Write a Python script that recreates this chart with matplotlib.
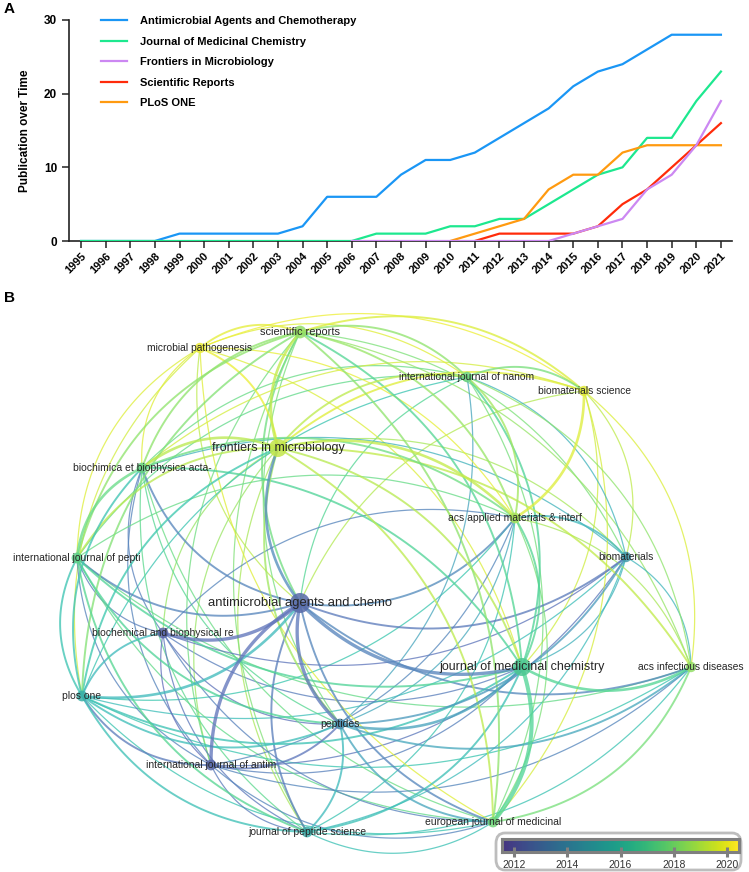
import numpy as np
import matplotlib
matplotlib.use("Agg")
import matplotlib.pyplot as plt
from matplotlib.colors import ListedColormap, Normalize, rgb_to_hsv, hsv_to_rgb
from matplotlib.patches import FancyBboxPatch

plt.rcParams['font.family'] = ['Liberation Sans', 'DejaVu Sans']

# ---------------- panel A data ----------------
years = list(range(1995, 2022))
aac = [0, 0, 0, 0, 1, 1, 1, 1, 1, 2, 6, 6, 6, 9, 11, 11, 12, 14, 16, 18, 21, 23, 24, 26, 28, 28, 28]
jmc = [0, 0, 0, 0, 0, 0, 0, 0, 0, 0, 0, 0, 1, 1, 1, 2, 2, 3, 3, 5, 7, 9, 10, 14, 14, 19, 23]
fm_years = list(range(2006, 2022))
fm = [0, 0, 0, 0, 0, 0, 0, 0, 0, 1, 2, 3, 7, 9, 13, 19]
sr_years = list(range(2011, 2022))
sr = [0, 1, 1, 1, 1, 2, 5, 7, 10, 13, 16]
plos_years = list(range(2010, 2022))
plos = [0, 1, 2, 3, 7, 9, 9, 12, 13, 13, 13, 13]

# ---------------- panel B data ----------------
node_names = ['antimicrobial agents and chemo', 'journal of medicinal chemistry',
              'frontiers in microbiology', 'scientific reports', 'plos one', 'peptides',
              'biochimica et biophysica acta-', 'international journal of pepti',
              'biochemical and biophysical re', 'international journal of antim',
              'journal of peptide science', 'european journal of medicinal',
              'acs applied materials & interf', 'biomaterials', 'acs infectious diseases',
              'international journal of nanom', 'biomaterials science', 'microbial pathogenesis']
# layout coordinates of the map
node_x = [300, 522, 278, 300, 82, 340, 142, 77, 163, 211, 307, 493, 515, 626, 691, 467, 584, 200]
node_y = [603, 667, 448, 332, 696, 724, 468, 558, 633, 765, 832, 822, 518, 557, 667, 377, 391, 348]
# average publication year (overlay score)
node_year = [2012.5, 2016.8, 2019.3, 2018.4, 2015.4, 2013.8, 2017.5, 2017.3, 2012.3, 2012.4,
             2015.2, 2017.8, 2018.8, 2014.4, 2018.4, 2017.6, 2019.8, 2020.0]
node_weight = [30, 25, 25, 12, 7, 7, 7, 7, 7, 7, 7, 7, 7, 6, 6, 6, 6, 6]

# (colour source, target, strength)
links = [
    (0, 1, 4), (0, 2, 3), (3, 0, 2), (4, 0, 3), (0, 5, 4), (0, 6, 2), (0, 7, 2), (0, 8, 4),
    (0, 9, 4), (0, 10, 2), (0, 11, 2), (0, 12, 2), (0, 13, 2), (0, 14, 2), (15, 0, 1),
    (16, 0, 1), (17, 0, 1),
    (2, 1, 2), (1, 3, 2), (4, 1, 2), (5, 1, 3), (1, 6, 2), (1, 7, 2), (8, 1, 1), (9, 1, 1),
    (10, 1, 2), (1, 11, 5), (1, 12, 2), (13, 1, 1), (1, 14, 3), (1, 15, 2), (16, 1, 1), (17, 1, 1),
    (2, 3, 3), (4, 2, 2), (2, 5, 2), (2, 6, 3), (2, 7, 2), (2, 8, 1), (2, 9, 1), (2, 10, 1),
    (2, 11, 2), (2, 12, 3), (2, 13, 1), (2, 14, 2), (2, 15, 2), (16, 2, 2), (17, 2, 2),
    (3, 4, 2), (3, 5, 1), (3, 6, 2), (3, 7, 2), (3, 9, 1), (3, 10, 1), (3, 11, 2), (3, 12, 2),
    (3, 13, 1), (3, 14, 1), (3, 15, 2), (16, 3, 2), (17, 3, 2),
    (4, 5, 2), (4, 6, 2), (4, 7, 2), (4, 8, 2), (9, 4, 2), (4, 10, 2), (4, 11, 1), (4, 12, 1),
    (4, 13, 1), (4, 14, 1), (4, 15, 1), (17, 4, 1),
    (6, 5, 1), (7, 5, 2), (8, 5, 1), (9, 5, 2), (10, 5, 2), (5, 11, 2), (5, 12, 1), (5, 13, 2),
    (5, 14, 2), (5, 15, 1),
    (6, 7, 3), (8, 6, 1), (9, 6, 1), (6, 10, 1), (6, 11, 1), (6, 12, 2), (13, 6, 1), (6, 15, 1),
    (16, 6, 1), (17, 6, 1),
    (8, 7, 1), (9, 7, 1), (7, 10, 2), (7, 11, 1), (7, 12, 1), (7, 14, 1), (7, 15, 1), (17, 7, 1),
    (8, 9, 1), (8, 10, 1), (8, 11, 1), (8, 12, 1), (8, 13, 1),
    (9, 10, 1), (9, 11, 1), (9, 12, 1), (9, 13, 1), (9, 14, 1),
    (10, 11, 1), (10, 12, 1), (10, 13, 1), (10, 14, 1),
    (11, 12, 1), (11, 14, 2), (11, 15, 1), (16, 11, 1), (17, 11, 1),
    (13, 12, 2), (12, 14, 1), (12, 15, 2), (16, 12, 3), (17, 12, 1),
    (13, 14, 1), (13, 15, 1), (16, 13, 1),
    (14, 15, 1), (16, 14, 1),
    (15, 16, 2), (17, 15, 1),
    (17, 16, 1),
]
cbar_ticks = [2012, 2014, 2016, 2018, 2020]

W, H = 749, 872
fig = plt.figure(figsize=(W / 100, H / 100), dpi=100)

# ---------------- panel A ----------------
ax = fig.add_axes([69 / W, 1 - 241 / H, (732 - 69) / W, 221 / H])
ax.plot(years, aac, color='#1A96F5', lw=1.6, label='Antimicrobial Agents and Chemotherapy', zorder=2)
ax.plot(years, jmc, color='#1DE88F', lw=1.6, label='Journal of Medicinal Chemistry', zorder=3)
ax.plot(fm_years, fm, color='#CC88F2', lw=1.6, label='Frontiers in Microbiology', zorder=6)
ax.plot(sr_years, sr, color='#FF2B0A', lw=1.6, label='Scientific Reports', zorder=5)
ax.plot(plos_years, plos, color='#FF9A10', lw=1.6, label='PLoS ONE', zorder=4)
ax.set_xlim(1994.51, 2021.45)
ax.set_ylim(0, 30)
ax.set_yticks([0, 10, 20, 30])
ax.set_xticks(years)
ax.set_xticklabels([str(y) for y in years], rotation=45, ha='right', rotation_mode='anchor',
                   fontsize=8, fontweight='bold')
for lab in ax.get_yticklabels():
    lab.set_fontsize(8.5)
    lab.set_fontweight('bold')
ax.tick_params(axis='both', direction='out', length=5, width=1.1, color='#222222')
ax.tick_params(axis='x', pad=2)
for s in ['top', 'right']:
    ax.spines[s].set_visible(False)
for s in ['left', 'bottom']:
    ax.spines[s].set_linewidth(1.2)
    ax.spines[s].set_color('#222222')
ax.set_ylabel('Publication over Time', fontsize=8.5, fontweight='bold', labelpad=9)
ax.legend(loc='upper left', bbox_to_anchor=(101 / W, 1 - 16 / H), bbox_transform=fig.transFigure,
          frameon=False, handlelength=2.3, handletextpad=1.25, labelspacing=0.95,
          borderpad=0, borderaxespad=0, prop={'size': 8, 'weight': 'bold'})
fig.text(4 / W, 1 - 9 / H, 'A', fontsize=11, fontweight='bold', va='center', ha='left')

# ---------------- panel B ----------------
cmap = ListedColormap(plt.cm.viridis(np.linspace(0.15, 1.0, 256)))
norm = Normalize(vmin=2011.55, vmax=2020.45)


def bright(year, amount=0.42):
    # lighter rendering of the overlay colour, as drawn on the map
    hsv = rgb_to_hsv(np.array(cmap(norm(year))[:3]))
    hsv[2] = hsv[2] + (1 - hsv[2]) * amount
    hsv[1] = hsv[1] * 0.85
    return hsv_to_rgb(hsv)


bx = fig.add_axes([0, 0, 1, (H - 285) / H])
bx.set_xlim(0, W)
bx.set_ylim(H, 285)
bx.axis('off')

nx = np.array(node_x, float)
ny = np.array(node_y, float)
cx, cy = nx.mean(), ny.mean()
t = np.linspace(0, 1, 60)[:, None]
for i, j, w in sorted(links, key=lambda e: e[2]):
    p0 = np.array([nx[i], ny[i]])
    p2 = np.array([nx[j], ny[j]])
    d = p2 - p0
    L = np.hypot(*d)
    n = np.array([-d[1], d[0]]) / L
    mid = (p0 + p2) / 2
    if np.dot(n, mid - np.array([cx, cy])) < 0:
        n = -n
    c = mid + n * 0.28 * L
    pts = (1 - t) ** 2 * p0 + 2 * (1 - t) * t * c + t ** 2 * p2
    col = bright(0.88 * node_year[i] + 0.12 * node_year[j])
    bx.plot(pts[:, 0], pts[:, 1], color=col, lw=0.4 + 0.5 * w, alpha=0.78,
            solid_capstyle='round', zorder=1)

radii = [4 + 0.2 * wt for wt in node_weight]
bx.scatter(nx, ny, s=(np.array(radii) * 2 * 0.72) ** 2,
           c=[bright(y, 0.25) for y in node_year], alpha=0.85, linewidths=0, zorder=3)
for k, name in enumerate(node_names):
    fs = 7.4 + 2.0 * (node_weight[k] - 6) / 24
    bx.text(nx[k], ny[k], name, fontsize=fs, color='#262626', ha='center', va='center', zorder=4)

fig.text(4 / W, 1 - 298 / H, 'B', fontsize=11, fontweight='bold', va='center', ha='left')

# colour scale legend
box = FancyBboxPatch((496 / W, 1 - 870 / H), 245 / W, 37 / H,
                     boxstyle='round,pad=0,rounding_size=0.012', transform=fig.transFigure,
                     facecolor='white', edgecolor='#BDBDBD', lw=2, zorder=5)
fig.patches.append(box)
cax = fig.add_axes([502 / W, 1 - 852 / H, 237 / W, 13 / H], zorder=6)
grad = np.linspace(norm.vmin, norm.vmax, 256)[None, :]
cax.imshow(grad, aspect='auto', cmap=cmap, norm=norm,
           extent=[norm.vmin, norm.vmax, 0, 1])
cax.set_yticks([])
cax.set_xticks(cbar_ticks)
cax.set_xticklabels([str(v) for v in cbar_ticks], fontsize=7.5, color='#333333')
cax.tick_params(axis='x', direction='inout', length=7, width=2.2, color='#7F7F7F', pad=2)
for s in cax.spines.values():
    s.set_edgecolor('#7F7F7F')
    s.set_linewidth(2.2)

fig.savefig('out.png', dpi=100)
